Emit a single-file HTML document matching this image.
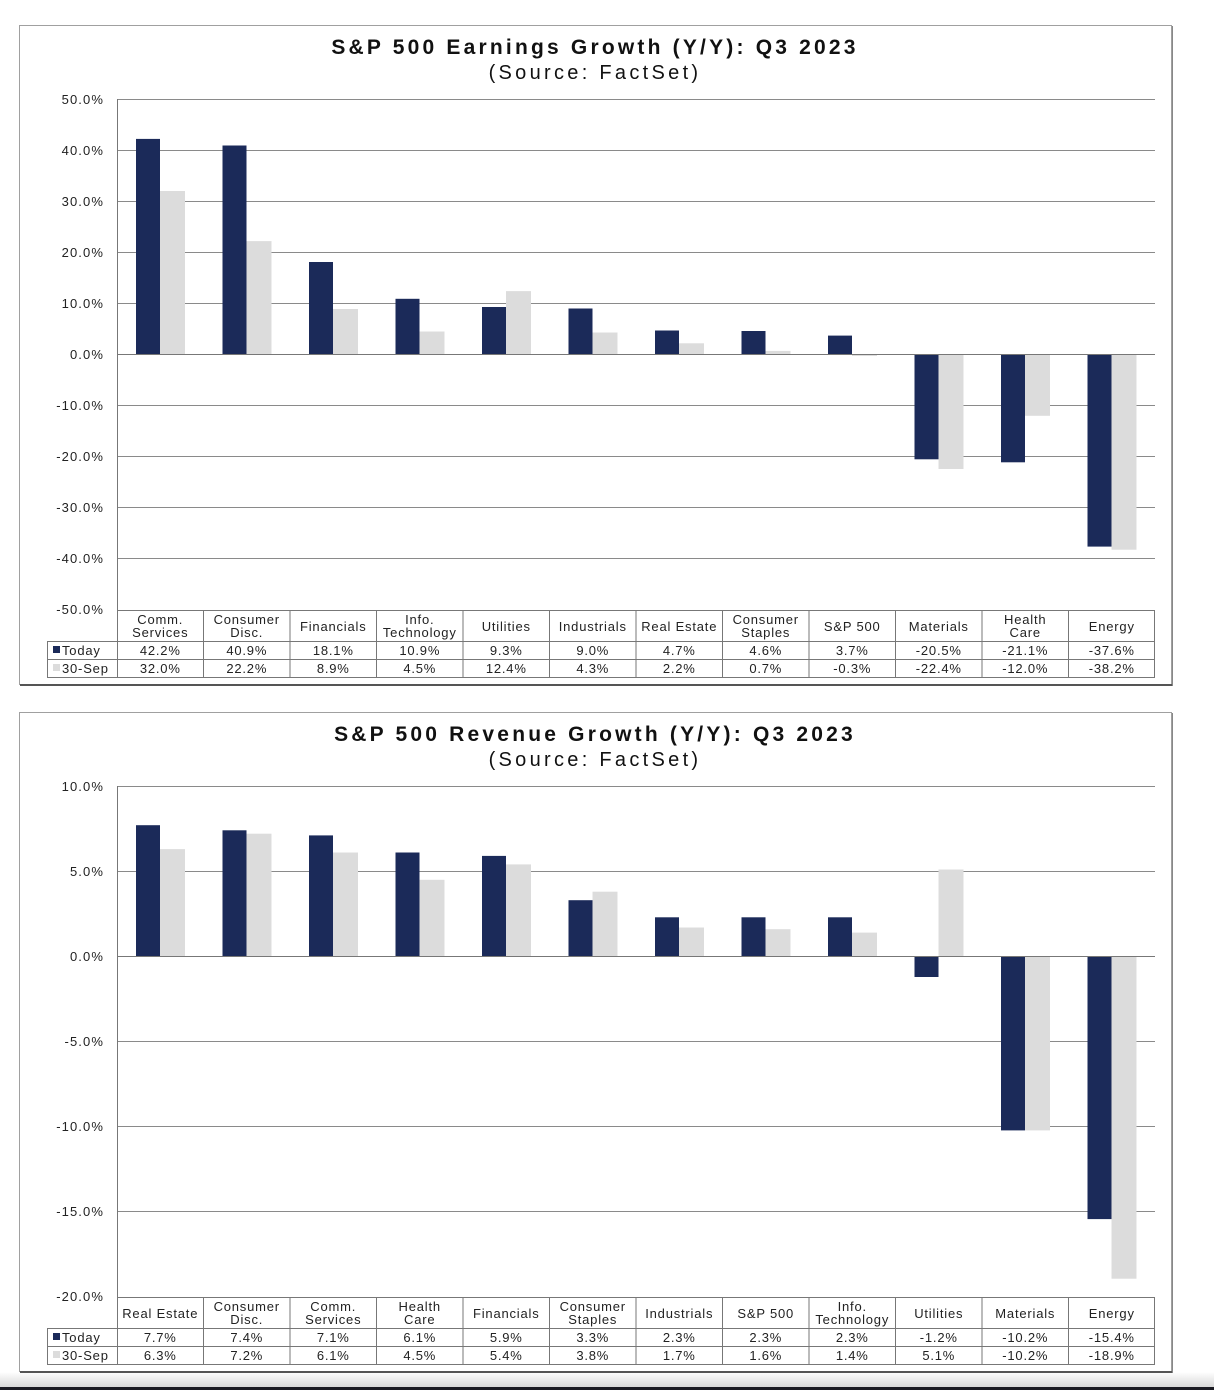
<!DOCTYPE html>
<html><head><meta charset="utf-8"><style>
html,body{margin:0;padding:0;background:#fff;}
svg{display:block;font-family:"Liberation Sans",Arial,sans-serif;}
</style></head><body>
<svg width="1214" height="1390" viewBox="0 0 1214 1390" xmlns="http://www.w3.org/2000/svg">
<defs><linearGradient id="bg" x1="0" y1="0" x2="0" y2="1"><stop offset="0" stop-color="#fff"/><stop offset="1" stop-color="#d8d8d8"/></linearGradient></defs>
<rect x="0" y="1372" width="1214" height="15" fill="url(#bg)"/>
<rect x="0" y="1387" width="1214" height="3" fill="#1a1a22"/>

<!-- ===== CHART 1 ===== -->
<rect x="19.5" y="25.5" width="1152" height="659" fill="#fff" stroke="#a0a0a0"/>
<line x1="20" y1="685" x2="1173" y2="685" stroke="#555" stroke-width="2"/>
<line x1="1172.5" y1="26" x2="1172.5" y2="686" stroke="#888"/>
<text x="595" y="54" font-size="21" font-weight="bold" text-anchor="middle" fill="#111" letter-spacing="3.2">S&amp;P 500 Earnings Growth (Y/Y): Q3 2023</text>
<text x="595" y="79" font-size="20" text-anchor="middle" fill="#111" letter-spacing="3.3">(Source: FactSet)</text>
<g stroke="#8a8a8a" stroke-width="1">
<line x1="117" y1="99.5" x2="1155" y2="99.5"/><line x1="117" y1="150.5" x2="1155" y2="150.5"/><line x1="117" y1="201.5" x2="1155" y2="201.5"/><line x1="117" y1="252.5" x2="1155" y2="252.5"/><line x1="117" y1="303.5" x2="1155" y2="303.5"/><line x1="117" y1="405.5" x2="1155" y2="405.5"/><line x1="117" y1="456.5" x2="1155" y2="456.5"/><line x1="117" y1="507.5" x2="1155" y2="507.5"/><line x1="117" y1="558.5" x2="1155" y2="558.5"/>
</g>
<g fill="#1b2a59">
<rect x="136" y="138.9" width="24" height="215.6"/><rect x="222.5" y="145.5" width="24" height="209"/><rect x="309" y="262" width="24" height="92.5"/><rect x="395.5" y="298.8" width="24" height="55.7"/><rect x="482" y="307" width="24" height="47.5"/><rect x="568.5" y="308.5" width="24" height="46"/><rect x="655" y="330.5" width="24" height="24"/><rect x="741.5" y="331" width="24" height="23.5"/><rect x="828" y="335.6" width="24" height="18.9"/><rect x="914.5" y="354.5" width="24" height="104.8"/><rect x="1001" y="354.5" width="24" height="107.8"/><rect x="1087.5" y="354.5" width="24" height="192.1"/>
</g>
<g fill="#dcdcdc">
<rect x="160" y="191" width="25" height="163.5"/><rect x="246.5" y="241.1" width="25" height="113.4"/><rect x="333" y="309" width="25" height="45.5"/><rect x="419.5" y="331.5" width="25" height="23"/><rect x="506" y="291.1" width="25" height="63.4"/><rect x="592.5" y="332.5" width="25" height="22"/><rect x="679" y="343.3" width="25" height="11.2"/><rect x="765.5" y="350.9" width="25" height="3.6"/><rect x="852" y="354.5" width="25" height="1.5"/><rect x="938.5" y="354.5" width="25" height="114.5"/><rect x="1025" y="354.5" width="25" height="61.3"/><rect x="1111.5" y="354.5" width="25" height="195.2"/>
</g>
<line x1="117" y1="354.5" x2="1155" y2="354.5" stroke="#777"/>
<g font-size="13" text-anchor="end" fill="#222" letter-spacing="1.1">
<text x="104" y="104">50.0%</text><text x="104" y="155">40.0%</text><text x="104" y="206">30.0%</text><text x="104" y="257">20.0%</text><text x="104" y="308">10.0%</text><text x="104" y="359">0.0%</text><text x="104" y="410">-10.0%</text><text x="104" y="461">-20.0%</text><text x="104" y="512">-30.0%</text><text x="104" y="563">-40.0%</text><text x="104" y="614">-50.0%</text>
</g>
<g stroke="#777" stroke-width="1" fill="none">
<line x1="117.5" y1="99" x2="117.5" y2="677"/>
<line x1="117" y1="610.5" x2="1155" y2="610.5"/>
<line x1="47" y1="641.5" x2="1155" y2="641.5"/><line x1="47" y1="659.5" x2="1155" y2="659.5"/><line x1="47" y1="677.5" x2="1155" y2="677.5"/>
<line x1="47.5" y1="641" x2="47.5" y2="678"/>
<line x1="203.5" y1="610" x2="203.5" y2="678"/><line x1="290" y1="610" x2="290" y2="678"/><line x1="376.5" y1="610" x2="376.5" y2="678"/><line x1="463" y1="610" x2="463" y2="678"/><line x1="549.5" y1="610" x2="549.5" y2="678"/><line x1="636" y1="610" x2="636" y2="678"/><line x1="722.5" y1="610" x2="722.5" y2="678"/><line x1="809" y1="610" x2="809" y2="678"/><line x1="895.5" y1="610" x2="895.5" y2="678"/><line x1="982" y1="610" x2="982" y2="678"/><line x1="1068.5" y1="610" x2="1068.5" y2="678"/><line x1="1154.5" y1="610" x2="1154.5" y2="678"/>
</g>
<rect x="53" y="646" width="7" height="7" fill="#1b2a59"/><rect x="53" y="664" width="7" height="7" fill="#dcdcdc"/>
<g font-size="13" fill="#222" letter-spacing="0.8"><text x="62" y="655">Today</text><text x="62" y="673">30-Sep</text></g>
<g font-size="13" text-anchor="middle" fill="#222" letter-spacing="0.8">
<text x="160.25" y="624">Comm.</text><text x="160.25" y="637">Services</text>
<text x="246.75" y="624">Consumer</text><text x="246.75" y="637">Disc.</text>
<text x="333.25" y="631">Financials</text>
<text x="419.75" y="624">Info.</text><text x="419.75" y="637">Technology</text>
<text x="506.25" y="631">Utilities</text>
<text x="592.75" y="631">Industrials</text>
<text x="679.25" y="631">Real Estate</text>
<text x="765.75" y="624">Consumer</text><text x="765.75" y="637">Staples</text>
<text x="852.25" y="631">S&amp;P 500</text>
<text x="938.75" y="631">Materials</text>
<text x="1025.25" y="624">Health</text><text x="1025.25" y="637">Care</text>
<text x="1111.75" y="631">Energy</text>
<text x="160.25" y="655">42.2%</text><text x="246.75" y="655">40.9%</text><text x="333.25" y="655">18.1%</text><text x="419.75" y="655">10.9%</text><text x="506.25" y="655">9.3%</text><text x="592.75" y="655">9.0%</text><text x="679.25" y="655">4.7%</text><text x="765.75" y="655">4.6%</text><text x="852.25" y="655">3.7%</text><text x="938.75" y="655">-20.5%</text><text x="1025.25" y="655">-21.1%</text><text x="1111.75" y="655">-37.6%</text>
<text x="160.25" y="673">32.0%</text><text x="246.75" y="673">22.2%</text><text x="333.25" y="673">8.9%</text><text x="419.75" y="673">4.5%</text><text x="506.25" y="673">12.4%</text><text x="592.75" y="673">4.3%</text><text x="679.25" y="673">2.2%</text><text x="765.75" y="673">0.7%</text><text x="852.25" y="673">-0.3%</text><text x="938.75" y="673">-22.4%</text><text x="1025.25" y="673">-12.0%</text><text x="1111.75" y="673">-38.2%</text>
</g>

<!-- ===== CHART 2 ===== -->
<rect x="19.5" y="712.5" width="1152" height="659" fill="#fff" stroke="#a0a0a0"/>
<line x1="20" y1="1372" x2="1173" y2="1372" stroke="#555" stroke-width="2"/>
<line x1="1172.5" y1="713" x2="1172.5" y2="1373" stroke="#888"/>
<text x="595" y="741" font-size="21" font-weight="bold" text-anchor="middle" fill="#111" letter-spacing="3.2">S&amp;P 500 Revenue Growth (Y/Y): Q3 2023</text>
<text x="595" y="766" font-size="20" text-anchor="middle" fill="#111" letter-spacing="3.3">(Source: FactSet)</text>
<g stroke="#8a8a8a" stroke-width="1">
<line x1="117" y1="786.5" x2="1155" y2="786.5"/><line x1="117" y1="871.5" x2="1155" y2="871.5"/><line x1="117" y1="1041.5" x2="1155" y2="1041.5"/><line x1="117" y1="1126.5" x2="1155" y2="1126.5"/><line x1="117" y1="1211.5" x2="1155" y2="1211.5"/>
</g>
<g fill="#1b2a59">
<rect x="136" y="825.2" width="24" height="131.3"/><rect x="222.5" y="830.3" width="24" height="126.2"/><rect x="309" y="835.4" width="24" height="121.1"/><rect x="395.5" y="852.5" width="24" height="104"/><rect x="482" y="855.9" width="24" height="100.6"/><rect x="568.5" y="900.2" width="24" height="56.3"/><rect x="655" y="917.3" width="24" height="39.2"/><rect x="741.5" y="917.3" width="24" height="39.2"/><rect x="828" y="917.3" width="24" height="39.2"/><rect x="914.5" y="956.5" width="24" height="20.5"/><rect x="1001" y="956.5" width="24" height="173.9"/><rect x="1087.5" y="956.5" width="24" height="262.6"/>
</g>
<g fill="#dcdcdc">
<rect x="160" y="849.1" width="25" height="107.4"/><rect x="246.5" y="833.7" width="25" height="122.8"/><rect x="333" y="852.5" width="25" height="104"/><rect x="419.5" y="879.8" width="25" height="76.7"/><rect x="506" y="864.4" width="25" height="92.1"/><rect x="592.5" y="891.7" width="25" height="64.8"/><rect x="679" y="927.5" width="25" height="29"/><rect x="765.5" y="929.2" width="25" height="27.3"/><rect x="852" y="932.6" width="25" height="23.9"/><rect x="938.5" y="869.5" width="25" height="87"/><rect x="1025" y="956.5" width="25" height="173.9"/><rect x="1111.5" y="956.5" width="25" height="322.2"/>
</g>
<line x1="117" y1="956.5" x2="1155" y2="956.5" stroke="#777"/>
<g font-size="13" text-anchor="end" fill="#222" letter-spacing="1.1">
<text x="104" y="791">10.0%</text><text x="104" y="876">5.0%</text><text x="104" y="961">0.0%</text><text x="104" y="1046">-5.0%</text><text x="104" y="1131">-10.0%</text><text x="104" y="1216">-15.0%</text><text x="104" y="1301">-20.0%</text>
</g>
<g stroke="#777" stroke-width="1" fill="none">
<line x1="117.5" y1="786" x2="117.5" y2="1364"/>
<line x1="117" y1="1297.5" x2="1155" y2="1297.5"/>
<line x1="47" y1="1328.5" x2="1155" y2="1328.5"/><line x1="47" y1="1346.5" x2="1155" y2="1346.5"/><line x1="47" y1="1364.5" x2="1155" y2="1364.5"/>
<line x1="47.5" y1="1328" x2="47.5" y2="1365"/>
<line x1="203.5" y1="1297" x2="203.5" y2="1365"/><line x1="290" y1="1297" x2="290" y2="1365"/><line x1="376.5" y1="1297" x2="376.5" y2="1365"/><line x1="463" y1="1297" x2="463" y2="1365"/><line x1="549.5" y1="1297" x2="549.5" y2="1365"/><line x1="636" y1="1297" x2="636" y2="1365"/><line x1="722.5" y1="1297" x2="722.5" y2="1365"/><line x1="809" y1="1297" x2="809" y2="1365"/><line x1="895.5" y1="1297" x2="895.5" y2="1365"/><line x1="982" y1="1297" x2="982" y2="1365"/><line x1="1068.5" y1="1297" x2="1068.5" y2="1365"/><line x1="1154.5" y1="1297" x2="1154.5" y2="1365"/>
</g>
<rect x="53" y="1333" width="7" height="7" fill="#1b2a59"/><rect x="53" y="1351" width="7" height="7" fill="#dcdcdc"/>
<g font-size="13" fill="#222" letter-spacing="0.8"><text x="62" y="1342">Today</text><text x="62" y="1360">30-Sep</text></g>
<g font-size="13" text-anchor="middle" fill="#222" letter-spacing="0.8">
<text x="160.25" y="1318">Real Estate</text>
<text x="246.75" y="1311">Consumer</text><text x="246.75" y="1324">Disc.</text>
<text x="333.25" y="1311">Comm.</text><text x="333.25" y="1324">Services</text>
<text x="419.75" y="1311">Health</text><text x="419.75" y="1324">Care</text>
<text x="506.25" y="1318">Financials</text>
<text x="592.75" y="1311">Consumer</text><text x="592.75" y="1324">Staples</text>
<text x="679.25" y="1318">Industrials</text>
<text x="765.75" y="1318">S&amp;P 500</text>
<text x="852.25" y="1311">Info.</text><text x="852.25" y="1324">Technology</text>
<text x="938.75" y="1318">Utilities</text>
<text x="1025.25" y="1318">Materials</text>
<text x="1111.75" y="1318">Energy</text>
<text x="160.25" y="1342">7.7%</text><text x="246.75" y="1342">7.4%</text><text x="333.25" y="1342">7.1%</text><text x="419.75" y="1342">6.1%</text><text x="506.25" y="1342">5.9%</text><text x="592.75" y="1342">3.3%</text><text x="679.25" y="1342">2.3%</text><text x="765.75" y="1342">2.3%</text><text x="852.25" y="1342">2.3%</text><text x="938.75" y="1342">-1.2%</text><text x="1025.25" y="1342">-10.2%</text><text x="1111.75" y="1342">-15.4%</text>
<text x="160.25" y="1360">6.3%</text><text x="246.75" y="1360">7.2%</text><text x="333.25" y="1360">6.1%</text><text x="419.75" y="1360">4.5%</text><text x="506.25" y="1360">5.4%</text><text x="592.75" y="1360">3.8%</text><text x="679.25" y="1360">1.7%</text><text x="765.75" y="1360">1.6%</text><text x="852.25" y="1360">1.4%</text><text x="938.75" y="1360">5.1%</text><text x="1025.25" y="1360">-10.2%</text><text x="1111.75" y="1360">-18.9%</text>
</g>
</svg>
</body></html>
